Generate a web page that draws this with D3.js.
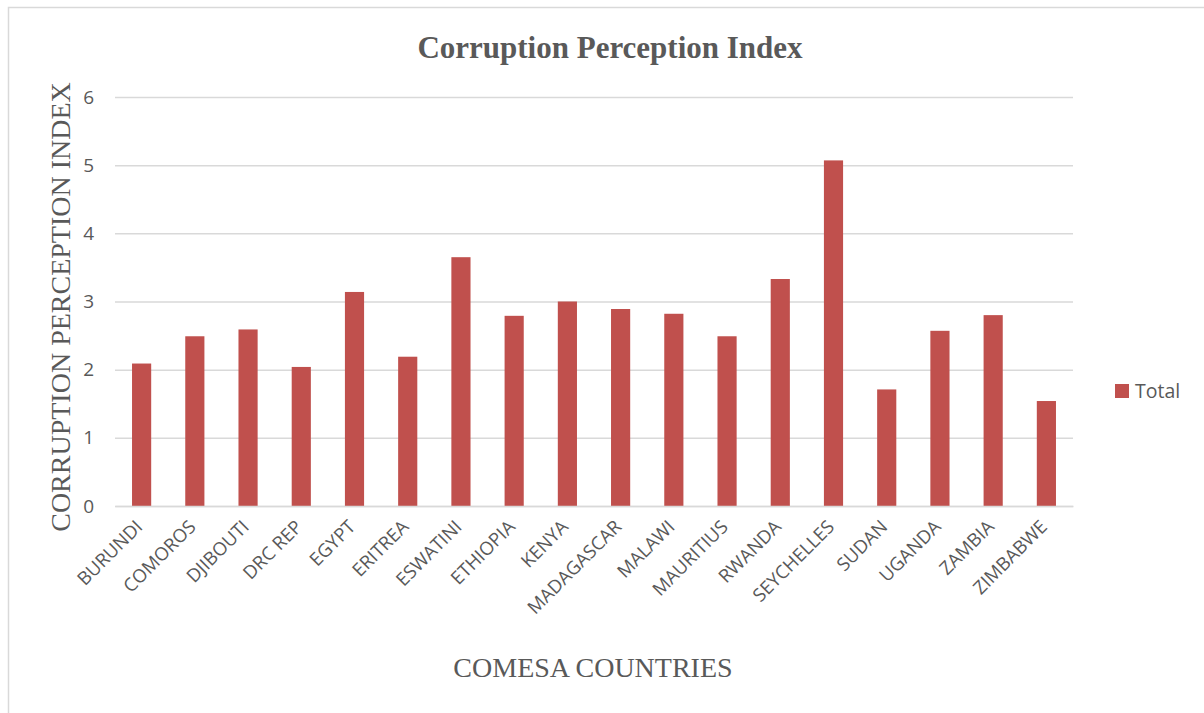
<!DOCTYPE html>
<html>
<head>
<meta charset="utf-8">
<script src="https://cdn.jsdelivr.net/npm/d3@7"></script>
<style>
  body { margin: 0; background: #fff; }
  svg { display: block; }
</style>
</head>
<body>
<script>
const countries = ['BURUNDI', 'COMOROS', 'DJIBOUTI', 'DRC REP', 'EGYPT', 'ERITREA', 'ESWATINI', 'ETHIOPIA', 'KENYA',
  'MADAGASCAR', 'MALAWI', 'MAURITIUS', 'RWANDA', 'SEYCHELLES', 'SUDAN', 'UGANDA', 'ZAMBIA', 'ZIMBABWE']
const totals = [2.09, 2.49, 2.59, 2.04, 3.14, 2.19, 3.65, 2.79, 3.0, 2.89, 2.82, 2.49, 3.33, 5.07, 1.71, 2.57, 2.8, 1.54]
const yTicks = [0, 1, 2, 3, 4, 5, 6]
const seriesName = 'Total'

const data = countries.map((c, i) => ({ country: c, value: totals[i] }))

const W = 1204, H = 713
const margin = { left: 115, right: 131, top: 97, bottom: 207 }
const width = W - margin.left - margin.right
const height = H - margin.top - margin.bottom
const textColor = '#595959'
const barColor = '#C0504D'

const svg = d3.select('body').append('svg').attr('width', W).attr('height', H)

// chart frame
svg.append('rect')
  .attr('x', 8.5).attr('y', 7.5)
  .attr('width', W).attr('height', H)
  .attr('fill', 'none').attr('stroke', '#d9d9d9').attr('stroke-width', 1.5)

svg.append('text')
  .attr('x', 610).attr('y', 58)
  .attr('text-anchor', 'middle')
  .attr('font-family', '"Liberation Serif", serif')
  .attr('font-weight', 'bold')
  .attr('font-size', 31)
  .attr('fill', textColor)
  .text('Corruption Perception Index')

const x = d3.scaleBand()
  .domain(countries)
  .range([0, width])
  .paddingInner(0.64)
  .paddingOuter(0.32)

const y = d3.scaleLinear()
  .domain([0, 6])
  .range([height, 0])

const g = svg.append('g').attr('transform', `translate(${margin.left},${margin.top})`)

// gridlines
g.append('g')
  .call(d3.axisLeft(y).tickValues(yTicks).tickSize(-width).tickFormat(''))
  .call(s => s.select('.domain').remove())
  .call(s => s.selectAll('line').attr('stroke', '#d9d9d9').attr('stroke-width', 1.5))

// y tick labels
g.append('g')
  .call(d3.axisLeft(y).tickValues(yTicks).tickFormat(d3.format('d')).tickSize(0).tickPadding(21))
  .call(s => s.select('.domain').remove())
  .call(s => s.selectAll('text')
    .attr('font-family', '"Open Sans", sans-serif')
    .attr('font-size', 19)
    .attr('fill', textColor))

g.selectAll('.bar')
  .data(data)
  .enter().append('rect')
  .attr('class', 'bar')
  .attr('x', d => x(d.country))
  .attr('y', d => y(d.value))
  .attr('width', x.bandwidth())
  .attr('height', d => height - y(d.value))
  .attr('fill', barColor)

// x axis
const xAxis = g.append('g')
  .attr('transform', `translate(0,${height})`)
  .call(d3.axisBottom(x).tickSize(0).tickPadding(0))
xAxis.select('.domain').attr('stroke', '#d9d9d9').attr('stroke-width', 1.5)
xAxis.selectAll('text')
  .attr('font-family', '"Open Sans", sans-serif')
  .attr('font-size', 18.5)
  .attr('fill', textColor)
  .attr('text-anchor', 'end')
  .attr('dy', 0)
  .attr('transform', 'translate(2,22) rotate(-45)')

svg.append('text')
  .attr('x', 593).attr('y', 677)
  .attr('text-anchor', 'middle')
  .attr('font-family', '"Liberation Serif", serif')
  .attr('font-size', 28)
  .attr('fill', textColor)
  .text('COMESA COUNTRIES')

svg.append('text')
  .attr('transform', `translate(70,307) rotate(-90)`)
  .attr('text-anchor', 'middle')
  .attr('font-family', '"Liberation Serif", serif')
  .attr('font-size', 28)
  .attr('fill', textColor)
  .text('CORRUPTION PERCEPTION INDEX')

// legend
const legend = svg.append('g').attr('transform', 'translate(1115,384)')
legend.append('rect').attr('width', 14).attr('height', 14).attr('fill', barColor)
legend.append('text')
  .attr('x', 20).attr('y', 14)
  .attr('font-family', '"Open Sans", sans-serif')
  .attr('font-size', 19.5)
  .attr('fill', textColor)
  .text(seriesName)
</script>
</body>
</html>
